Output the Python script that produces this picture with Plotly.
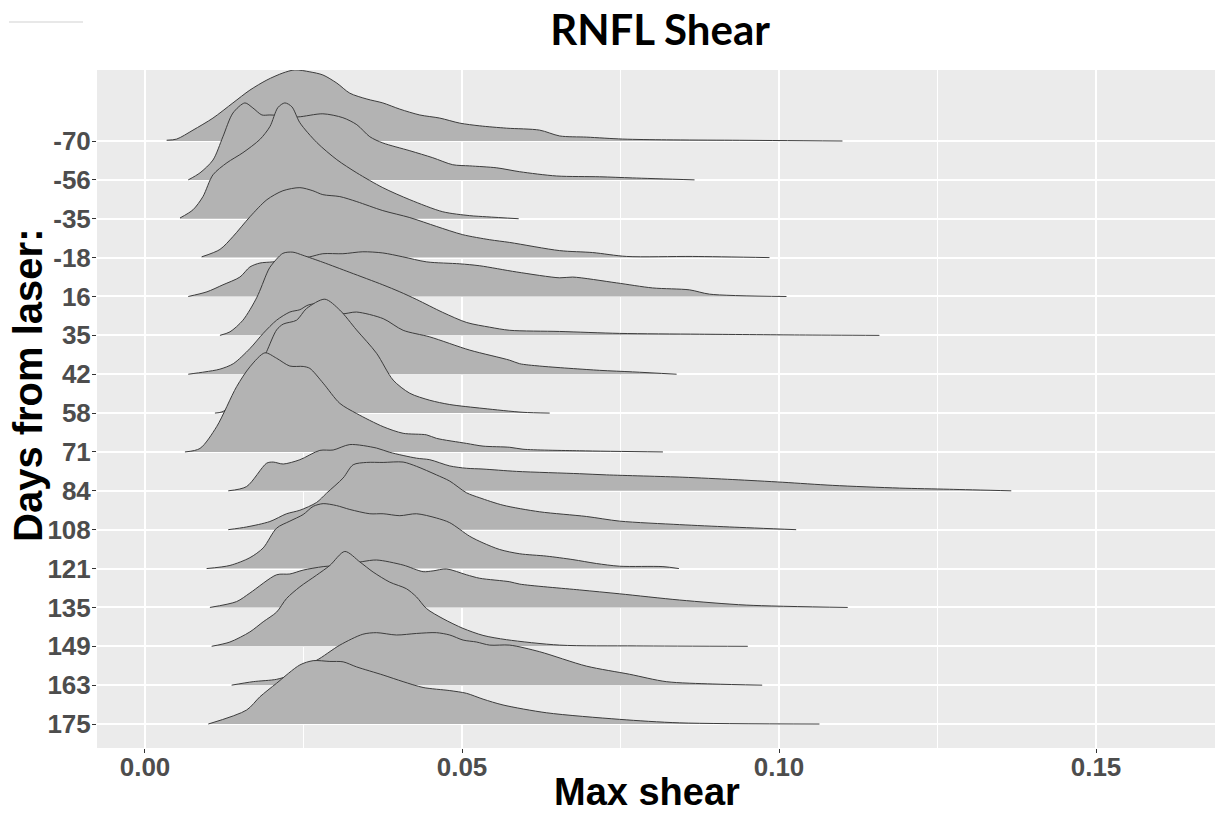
import plotly.graph_objects as go

categories = ["-70", "-56", "-35", "-18", "16", "35", "42", "58", "71", "84",
              "108", "121", "135", "149", "163", "175"]

shear_m70 = [0.00342, 0.00500, 0.00757, 0.01072, 0.01387, 0.01655, 0.01923, 0.02175, 0.02364, 0.02600,
             0.02805, 0.03026, 0.03231, 0.03499, 0.03751, 0.04019, 0.04334, 0.04649, 0.04965, 0.05280,
             0.05705, 0.06225, 0.06541, 0.06966, 0.07533, 0.08227, 0.09267, 0.11001]
height_m70 = [0.02, 0.05, 0.28, 0.59, 0.98, 1.31, 1.57, 1.75, 1.83, 1.78,
              1.70, 1.49, 1.23, 1.08, 0.98, 0.82, 0.67, 0.59, 0.46, 0.39,
              0.33, 0.28, 0.13, 0.10, 0.05, 0.03, 0.02, 0.0]

shear_m56 = [0.00682, 0.00867, 0.01072, 0.01229, 0.01387, 0.01576, 0.01702, 0.01844, 0.01970, 0.02206,
             0.02411, 0.02805, 0.03121, 0.03341, 0.03546, 0.03751, 0.04177, 0.04539, 0.04854, 0.05122,
             0.05548, 0.05910, 0.06493, 0.07171, 0.07691, 0.08668]
height_m56 = [0.0, 0.18, 0.51, 1.11, 1.72, 1.98, 1.85, 1.67, 1.67, 1.65,
              1.62, 1.70, 1.60, 1.42, 1.11, 0.95, 0.75, 0.57, 0.39, 0.36,
              0.31, 0.21, 0.10, 0.08, 0.05, 0.0]

shear_m35 = [0.00552, 0.00757, 0.00914, 0.01072, 0.01292, 0.01545, 0.01812, 0.01970, 0.02096, 0.02206,
             0.02317, 0.02443, 0.02711, 0.03026, 0.03341, 0.03751, 0.04177, 0.04697, 0.05122, 0.05390,
             0.05894]
height_m35 = [0.02, 0.23, 0.57, 1.13, 1.44, 1.70, 2.04, 2.37, 2.86, 2.98,
              2.88, 2.47, 1.96, 1.52, 1.18, 0.80, 0.49, 0.18, 0.08, 0.05,
              0.0]

shear_m18 = [0.00894, 0.01182, 0.01387, 0.01655, 0.01923, 0.02175, 0.02443, 0.02648, 0.02805, 0.03073,
             0.03341, 0.03751, 0.04177, 0.04602, 0.05012, 0.05437, 0.05753, 0.06541, 0.07061, 0.07597,
             0.08637, 0.09850]
height_m18 = [0.02, 0.21, 0.54, 1.05, 1.49, 1.72, 1.80, 1.72, 1.62, 1.57,
              1.44, 1.21, 1.03, 0.80, 0.59, 0.46, 0.39, 0.18, 0.13, 0.03,
              0.03, 0.0]

shear_16 = [0.00682, 0.00977, 0.01229, 0.01497, 0.01655, 0.01812, 0.02017, 0.02285, 0.02600, 0.02805,
            0.03121, 0.03436, 0.03751, 0.04066, 0.04444, 0.04965, 0.05280, 0.05863, 0.06541, 0.06745,
            0.07439, 0.08006, 0.08589, 0.08905, 0.10118]
height_16 = [0.0, 0.12, 0.30, 0.50, 0.76, 0.86, 0.89, 0.95, 1.02, 1.10,
             1.10, 1.15, 1.12, 1.02, 0.89, 0.84, 0.79, 0.63, 0.48, 0.50,
             0.35, 0.22, 0.17, 0.06, 0.0]

shear_35 = [0.01182, 0.01340, 0.01545, 0.01765, 0.01923, 0.01970, 0.02175, 0.02333, 0.02490, 0.02805,
            0.03231, 0.03751, 0.04019, 0.04287, 0.04697, 0.05075, 0.05437, 0.05753, 0.06541, 0.07486,
            0.08747, 0.10323, 0.11584]
height_35 = [0.0, 0.09, 0.39, 0.98, 1.60, 1.75, 2.11, 2.14, 2.06, 1.88,
             1.62, 1.30, 1.12, 0.92, 0.59, 0.33, 0.21, 0.13, 0.10, 0.05,
             0.03, 0.01, 0.0]

shear_42 = [0.00682, 0.00946, 0.01182, 0.01392, 0.01655, 0.01864, 0.02076, 0.02285, 0.02443, 0.02574,
            0.02810, 0.03100, 0.03336, 0.03756, 0.04071, 0.04492, 0.05122, 0.05753, 0.05910, 0.06225,
            0.07171, 0.07691, 0.08385]
height_42 = [0.0, 0.06, 0.13, 0.27, 0.66, 1.05, 1.39, 1.60, 1.66, 1.78,
             1.82, 1.56, 1.60, 1.43, 1.13, 0.96, 0.62, 0.36, 0.27, 0.21,
             0.10, 0.06, 0.0]

shear_58 = [0.01103, 0.01214, 0.01497, 0.01734, 0.01918, 0.02076, 0.02180, 0.02391, 0.02548, 0.02837,
            0.03073, 0.03336, 0.03652, 0.03913, 0.04177, 0.04492, 0.04807, 0.05332, 0.05962, 0.06383]
height_58 = [0.0, 0.03, 0.35, 0.95, 1.58, 2.14, 2.29, 2.39, 2.69, 2.93,
             2.65, 2.14, 1.54, 0.85, 0.51, 0.33, 0.22, 0.12, 0.02, 0.0]

shear_71 = [0.00630, 0.00867, 0.01130, 0.01445, 0.01655, 0.01891, 0.02076, 0.02285, 0.02495, 0.02600,
            0.02810, 0.03073, 0.03336, 0.03756, 0.04071, 0.04440, 0.04597, 0.05070, 0.05332, 0.05753,
            0.05962, 0.06856, 0.08169]
height_71 = [0.0, 0.09, 0.65, 1.68, 2.19, 2.55, 2.41, 2.21, 2.20, 2.15,
             1.77, 1.25, 0.99, 0.65, 0.48, 0.44, 0.35, 0.22, 0.15, 0.12,
             0.07, 0.03, 0.0]

shear_84 = [0.01313, 0.01603, 0.01918, 0.02022, 0.02180, 0.02443, 0.02758, 0.02968, 0.03231, 0.03652,
            0.03861, 0.04282, 0.04492, 0.04807, 0.05070, 0.05332, 0.05858, 0.06856, 0.07277, 0.08484,
            0.09272, 0.10060, 0.10848, 0.11899, 0.12687, 0.13664]
height_84 = [0.0, 0.11, 0.71, 0.74, 0.69, 0.80, 1.04, 1.05, 1.19, 1.10,
             0.99, 0.84, 0.80, 0.64, 0.58, 0.56, 0.50, 0.44, 0.41, 0.35,
             0.29, 0.22, 0.14, 0.07, 0.04, 0.0]

shear_108 = [0.01313, 0.01603, 0.01970, 0.02233, 0.02443, 0.02706, 0.02864, 0.03125, 0.03283, 0.03494,
             0.03756, 0.04071, 0.04282, 0.04597, 0.04807, 0.05070, 0.05280, 0.05647, 0.06225, 0.06962,
             0.07486, 0.08432, 0.09220, 0.10271]
height_108 = [0.0, 0.07, 0.21, 0.41, 0.50, 0.70, 0.94, 1.33, 1.67, 1.73,
              1.73, 1.74, 1.63, 1.41, 1.25, 0.95, 0.82, 0.63, 0.46, 0.34,
              0.22, 0.13, 0.07, 0.0]

shear_121 = [0.00972, 0.01340, 0.01655, 0.01864, 0.02076, 0.02285, 0.02495, 0.02653, 0.02810, 0.03021,
             0.03231, 0.03546, 0.03756, 0.04019, 0.04282, 0.04597, 0.04807, 0.05122, 0.05332, 0.05595,
             0.05910, 0.06331, 0.06750, 0.07119, 0.07486, 0.08169, 0.08421]
height_121 = [0.0, 0.08, 0.28, 0.53, 1.04, 1.22, 1.39, 1.60, 1.67, 1.62,
              1.52, 1.41, 1.41, 1.36, 1.41, 1.30, 1.18, 0.83, 0.66, 0.49,
              0.38, 0.32, 0.23, 0.13, 0.06, 0.05, 0.0]

shear_135 = [0.01024, 0.01445, 0.01655, 0.02076, 0.02285, 0.02495, 0.02810, 0.03125, 0.03436, 0.03652,
             0.04071, 0.04386, 0.04544, 0.04755, 0.05070, 0.05280, 0.05753, 0.05910, 0.06856, 0.07486,
             0.08432, 0.09483, 0.11084]
height_135 = [0.0, 0.15, 0.37, 0.84, 0.86, 0.96, 1.05, 1.09, 1.18, 1.22,
              1.09, 0.92, 0.94, 0.99, 0.84, 0.75, 0.66, 0.60, 0.45, 0.35,
              0.19, 0.06, 0.0]

shear_149 = [0.01051, 0.01340, 0.01655, 0.01864, 0.02076, 0.02233, 0.02443, 0.02706, 0.02916, 0.03152,
             0.03389, 0.03598, 0.03861, 0.04124, 0.04282, 0.04440, 0.04701, 0.05017, 0.05332, 0.05701,
             0.06541, 0.07749, 0.09508]
height_149 = [0.0, 0.11, 0.37, 0.63, 0.88, 1.23, 1.53, 1.83, 2.08, 2.44,
              2.17, 1.91, 1.65, 1.48, 1.27, 0.97, 0.71, 0.46, 0.28, 0.17,
              0.03, 0.01, 0.0]

shear_163 = [0.01366, 0.01707, 0.02076, 0.02285, 0.02548, 0.02706, 0.03073, 0.03436, 0.03652, 0.03967,
             0.04282, 0.04597, 0.04807, 0.05017, 0.05228, 0.05437, 0.05753, 0.06225, 0.06962, 0.07644,
             0.08222, 0.08957, 0.09735]
height_163 = [0.0, 0.09, 0.15, 0.26, 0.56, 0.64, 1.03, 1.31, 1.35, 1.29,
              1.33, 1.35, 1.29, 1.16, 1.11, 1.03, 1.03, 0.86, 0.49, 0.28,
              0.09, 0.03, 0.0]

shear_175 = [0.00998, 0.01603, 0.01812, 0.02076, 0.02443, 0.02653, 0.02916, 0.03125, 0.03336, 0.03756,
             0.04071, 0.04386, 0.04807, 0.05070, 0.05332, 0.05647, 0.06331, 0.07486, 0.08432, 0.10638]
height_175 = [0.0, 0.36, 0.70, 1.05, 1.52, 1.63, 1.61, 1.60, 1.47, 1.26,
              1.09, 0.94, 0.86, 0.79, 0.64, 0.49, 0.29, 0.12, 0.03, 0.0]

x_tick_values = [0.0, 0.05, 0.10, 0.15]
x_tick_labels = ["0.00", "0.05", "0.10", "0.15"]

shears = [shear_m70, shear_m56, shear_m35, shear_m18, shear_16, shear_35, shear_42, shear_58,
          shear_71, shear_84, shear_108, shear_121, shear_135, shear_149, shear_163, shear_175]
heights = [height_m70, height_m56, height_m35, height_m18, height_16, height_35, height_42, height_58,
           height_71, height_84, height_108, height_121, height_135, height_149, height_163, height_175]

FILL = "#B3B3B3"
LINE = "#3C3C3C"
n = len(categories)
positions = [n - i for i in range(n)]

fig = go.Figure()
for cat, pos, xs, hs in zip(categories, positions, shears, heights):
    # invisible baseline of the ridge
    fig.add_trace(go.Scatter(
        x=[xs[0], xs[-1]], y=[pos, pos], mode="lines",
        line=dict(width=0, color=FILL), hoverinfo="skip", showlegend=False))
    # density ridge filled down to the baseline, outlined on top
    fig.add_trace(go.Scatter(
        x=xs, y=[pos + h for h in hs], mode="lines", fill="tonexty", fillcolor=FILL,
        line=dict(color=LINE, width=1, shape="spline", smoothing=0.8),
        name=cat, showlegend=False))

tick_font = dict(family="Liberation Sans, Arial, sans-serif", size=26, color="#4D4D4D", weight="bold")

fig.update_layout(
    width=1215, height=816,
    margin=dict(l=97, r=0, t=70, b=68),
    paper_bgcolor="white", plot_bgcolor="#EBEBEB",
    showlegend=False,
    title=dict(text="RNFL Shear", x=(660 / 1215), xanchor="center", y=1 - 30 / 816, yanchor="middle",
               font=dict(family="Lato, Open Sans, sans-serif", size=42, color="black", weight="bold")),
    xaxis=dict(range=[-0.00757, 0.16877], tickvals=x_tick_values, ticktext=x_tick_labels,
               showgrid=True, gridcolor="white", gridwidth=1.5,
               minor=dict(tickvals=[0.025, 0.075, 0.125], showgrid=True, gridcolor="white", gridwidth=0.8, ticks=""),
               ticks="outside", ticklen=4, tickwidth=1, tickcolor="#333333", ticklabelstandoff=-8,
               tickfont=tick_font, zeroline=False, showline=False, fixedrange=True),
    yaxis=dict(range=[0.383, 17.827], tickvals=positions, ticktext=categories,
               showgrid=True, gridcolor="white", gridwidth=1.5,
               ticks="outside", ticklen=4, tickwidth=1, tickcolor="#333333", ticklabelstandoff=-4,
               tickfont=tick_font, zeroline=False, showline=False, fixedrange=True),
    annotations=[
        dict(text="Days from laser:", textangle=-90, xref="paper", yref="paper",
             x=(28 - 97) / 1118, y=(748 - 386) / 678, xanchor="center", yanchor="middle", showarrow=False,
             font=dict(family="Liberation Sans, Arial, sans-serif", size=40, color="black", weight="bold")),
        dict(text="Max shear", xref="paper", yref="paper",
             x=(647 - 97) / 1118, y=(748 - 792) / 678, xanchor="center", yanchor="middle", showarrow=False,
             font=dict(family="Liberation Sans, Arial, sans-serif", size=38, color="black", weight="bold")),
    ],
    shapes=[dict(type="line", xref="paper", yref="paper",
                 x0=(9 - 97) / 1118, x1=(83 - 97) / 1118, y0=(748 - 22) / 678, y1=(748 - 22) / 678,
                 line=dict(color="#E8E8E8", width=2))],
)

fig.write_html("out.html")
